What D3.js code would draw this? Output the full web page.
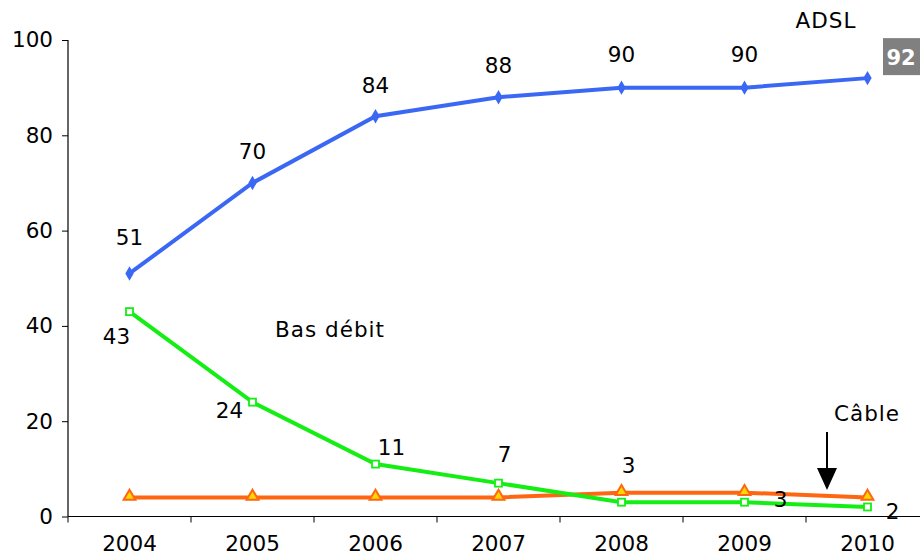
<!DOCTYPE html>
<html><head><meta charset="utf-8">
<script src="https://cdn.jsdelivr.net/npm/d3@7"></script>
<style>
body{margin:0;background:#fff;}
svg{display:block;font-family:"DejaVu Sans",Verdana,sans-serif;}
</style></head>
<body><svg id="c" width="920" height="557"></svg>
<script>
const years = ["2004","2005","2006","2007","2008","2009","2010"];
const adsl = [51,70,84,88,90,90,92];
const basDebit = [43,24,11,7,3,3,2];
const cable = [4,4,4,4,5,5,4];
const yTicks = [0,20,40,60,80,100];

// label offsets (style config, not data)
const adslLabelDy = [-28,-24,-23,-24,-26,-26,null];
const basLabelOff = [[-13,32],[-23,16],[16,-9],[6,-21],[7,-29],[36,5],[25,12]];

const svg = d3.select("#c");
const W = 920, H = 557;
const x = d3.scaleBand().domain(years).range([68, 929]);
const y = d3.scaleLinear().domain([0,100]).range([516.5, 40]);
const cx = d => x(d) + x.bandwidth()/2;

// Y axis
const yAx = svg.append("g").attr("transform","translate(68,0)")
  .call(d3.axisLeft(y).tickValues(yTicks).tickSize(6).tickPadding(9));
yAx.select(".domain").attr("stroke","#000").attr("stroke-width",1.2).attr("d","M0,40V516.5");
yAx.selectAll("text").attr("font-size",21.5).attr("font-family","DejaVu Sans").attr("fill","#000");
yAx.selectAll("line").attr("stroke","#000");

// X axis
const xg = svg.append("g");
xg.append("line").attr("x1",68).attr("x2",W).attr("y1",y(0)).attr("y2",y(0)).attr("stroke","#000").attr("stroke-width",1.2);
years.forEach(yr=>{
  xg.append("line").attr("x1",x(yr)).attr("x2",x(yr)).attr("y1",y(0)).attr("y2",y(0)+6).attr("stroke","#000");
  xg.append("text").attr("x",cx(yr)).attr("y",551).attr("text-anchor","middle")
    .attr("font-size",21.5).text(yr);
});
xg.append("line").attr("x1",x.range()[1]).attr("x2",x.range()[1]).attr("y1",y(0)).attr("y2",y(0)+6).attr("stroke","#000");

const line = d3.line().x((d,i)=>cx(years[i])).y(d=>y(d));

// Cable
svg.append("path").datum(cable).attr("d",line).attr("fill","none").attr("stroke","#FF6611").attr("stroke-width",4);
// Bas debit
svg.append("path").datum(basDebit).attr("d",line).attr("fill","none").attr("stroke","#14EE14").attr("stroke-width",4);
// ADSL
svg.append("path").datum(adsl).attr("d",line).attr("fill","none").attr("stroke","#3A68F4").attr("stroke-width",4);

// markers
const tri = d3.symbol().type(d3.symbolTriangle).size(60);
svg.selectAll(".tri").data(cable).enter().append("path")
  .attr("d",tri).attr("transform",(d,i)=>`translate(${cx(years[i])},${y(d)-1})`)
  .attr("fill","#FFD700").attr("stroke","#FF6611").attr("stroke-width",2);
svg.selectAll(".sq").data(basDebit).enter().append("rect")
  .attr("x",(d,i)=>cx(years[i])-3.5).attr("y",d=>y(d)-3.5).attr("width",7).attr("height",7)
  .attr("fill","#fff").attr("stroke","#14EE14").attr("stroke-width",1.8);
const dia = d3.symbol().type(d3.symbolDiamond).size(60);
svg.selectAll(".dia").data(adsl).enter().append("path")
  .attr("d",dia).attr("transform",(d,i)=>`translate(${cx(years[i])},${y(d)})`)
  .attr("fill","#3A68F4");

// ADSL labels
adsl.forEach((v,i)=>{
  if(adslLabelDy[i]===null) return;
  svg.append("text").attr("x",cx(years[i])).attr("y",y(v)+adslLabelDy[i]).attr("text-anchor","middle")
    .attr("font-size",21.5).text(v);
});
// last ADSL value box
{
  const v = adsl[adsl.length-1];
  const bx = 883, by = y(v)-40;
  svg.append("rect").attr("x",bx).attr("y",by).attr("width",40).attr("height",37).attr("fill","#808080");
  svg.append("text").attr("x",bx+18).attr("y",by+27).attr("text-anchor","middle")
    .attr("font-size",21).attr("font-weight","bold").attr("fill","#fff").text(v);
}
// Bas debit labels
basDebit.forEach((v,i)=>{
  svg.append("text").attr("x",cx(years[i])+basLabelOff[i][0]).attr("y",y(v)+basLabelOff[i][1])
    .attr("text-anchor","middle").attr("font-size",21.5).text(v);
});

// series names
svg.append("text").attr("x",826).attr("y",28).attr("text-anchor","middle").attr("font-size",21.5).attr("letter-spacing",1).text("ADSL");
svg.append("text").attr("x",330).attr("y",337).attr("text-anchor","middle").attr("font-size",21.5).attr("letter-spacing",1).text("Bas débit");
svg.append("text").attr("x",867).attr("y",421).attr("text-anchor","middle").attr("font-size",21.5).attr("letter-spacing",1).text("Câble");

// arrow
svg.append("line").attr("x1",827).attr("x2",827).attr("y1",432).attr("y2",470).attr("stroke","#000").attr("stroke-width",2);
svg.append("path").attr("d","M817,468L837,468L827,490Z").attr("fill","#000");
</script></body></html>
